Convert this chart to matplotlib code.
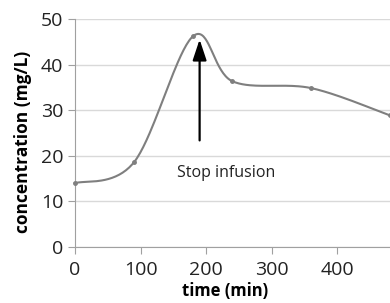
import matplotlib
matplotlib.use('Agg')
import matplotlib.pyplot as plt
import numpy as np

time_min = [0, 90, 180, 240, 360, 480]
conc = [14.0, 18.6, 46.3, 36.4, 34.9, 28.9]
x_ticks = [0, 100, 200, 300, 400]
y_ticks = [0, 10, 20, 30, 40, 50]

plt.rcParams['font.family'] = ['Open Sans', 'DejaVu Sans']


def smooth(x, y, n=40):
	# Catmull-Rom style bezier smoothing, like a spreadsheet "smoothed line"
	x = np.asarray(x, float)
	y = np.asarray(y, float)
	px = np.concatenate(([x[0]], x, [x[-1]]))
	py = np.concatenate(([y[0]], y, [y[-1]]))
	xs, ys = [], []
	t = np.linspace(0, 1, n)
	for i in range(1, len(px) - 2):
		p0 = np.array([px[i], py[i]])
		p3 = np.array([px[i + 1], py[i + 1]])
		c1 = p0 + (np.array([px[i + 1], py[i + 1]]) - np.array([px[i - 1], py[i - 1]])) / 6
		c2 = p3 - (np.array([px[i + 2], py[i + 2]]) - np.array([px[i], py[i]])) / 6
		b = ((1 - t) ** 3)[:, None] * p0 + (3 * (1 - t) ** 2 * t)[:, None] * c1 \
			+ (3 * (1 - t) * t ** 2)[:, None] * c2 + (t ** 3)[:, None] * p3
		xs.extend(b[:, 0])
		ys.extend(b[:, 1])
	return xs, ys


fig = plt.figure(figsize=(3.9, 3.03), dpi=100)
ax = fig.add_axes([0.192, 0.185, 0.808, 0.751])

sx, sy = smooth(time_min, conc)
ax.plot(sx, sy, color='#7f7f7f', lw=1.5, zorder=3, clip_on=False)
ax.plot(time_min, conc, 'o', color='#7f7f7f', ms=2.5, zorder=4, clip_on=False)

ax.annotate('', xy=(190, 46.2), xytext=(190, 22.8),
			arrowprops=dict(arrowstyle='-|>,head_length=0.9,head_width=0.3', color='black',
							lw=1.6, mutation_scale=14))
ax.text(155, 16.3, 'Stop infusion', fontsize=11.5, va='center', ha='left', color='#222222')

ax.set_xlim(0, 480)
ax.set_ylim(0, 50)
ax.set_xticks(x_ticks)
ax.set_yticks(y_ticks)
ax.grid(axis='y', color='#d9d9d9', lw=1)
ax.set_axisbelow(True)
for s in ['top', 'right']:
	ax.spines[s].set_visible(False)
for s in ['left', 'bottom']:
	ax.spines[s].set_color('#a0a0a0')
ax.tick_params(colors='#a0a0a0', labelcolor='#222222', labelsize=14, length=5)
ax.tick_params(axis='x', pad=5)
ax.set_xlabel('time (min)', fontsize=12, fontweight='bold')
ax.set_ylabel('concentration (mg/L)', fontsize=12.5, fontweight='bold')
ax.xaxis.set_label_coords(0.476, -0.155)
ax.yaxis.set_label_coords(-0.135, 0.46)

fig.savefig('out.png', dpi=100)
